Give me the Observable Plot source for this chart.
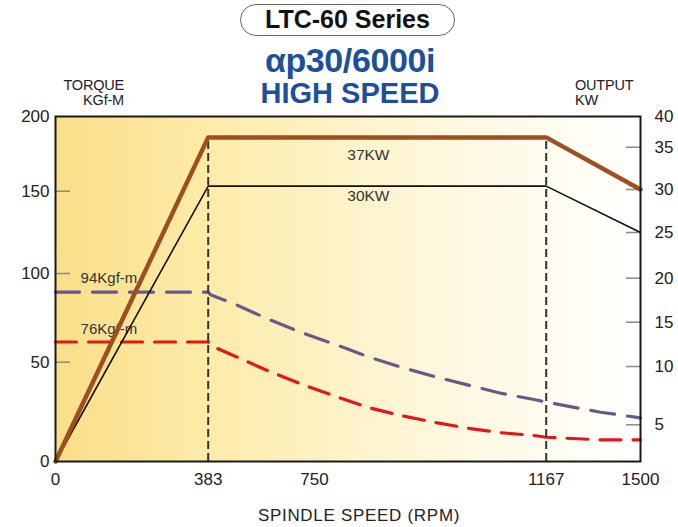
<!DOCTYPE html>
<html>
<head>
<meta charset="utf-8">
<script src="https://cdn.jsdelivr.net/npm/d3@7"></script>
<script src="https://cdn.jsdelivr.net/npm/@observablehq/plot@0.6"></script>
<style>
  html, body { margin: 0; padding: 0; background: #fff; }
  #wrap { position: relative; width: 678px; height: 527px; font-family: "Liberation Sans", Arial, sans-serif; color: #222; overflow: hidden; }
  #wrap > svg, #wrap > figure { position: absolute; left: 0; top: 0; margin: 0; }
  .t { position: absolute; line-height: 1; white-space: nowrap; }
  #box { position: absolute; left: 240px; top: 4px; width: 213px; height: 30px; border: 1.3px solid #666; border-radius: 16px; background: #fff; }
</style>
</head>
<body>
<div id="wrap">
  <div id="box"></div>
  <div class="t" style="left:240px; width:215px; text-align:center; top:7px; font-size:25px; font-weight:bold; color:#111;">LTC-60 Series</div>
  <div class="t" style="left:200px; width:300px; text-align:center; top:42.5px; font-size:34px; font-weight:bold; color:#1d4f9c; letter-spacing:-0.4px;">αp30/6000i</div>
  <div class="t" style="left:200px; width:300px; text-align:center; top:78.5px; font-size:29px; font-weight:bold; color:#1d4f9c;">HIGH SPEED</div>
  <div class="t" style="left:40px; width:84px; text-align:right; top:78px; font-size:14.5px; letter-spacing:-0.2px;">TORQUE</div>
  <div class="t" style="left:40px; width:84px; text-align:right; top:92.5px; font-size:14.5px; letter-spacing:-0.2px;">KGf-M</div>
  <div class="t" style="left:575px; top:78px; font-size:14.5px; letter-spacing:-0.2px;">OUTPUT</div>
  <div class="t" style="left:575px; top:92.5px; font-size:14.5px; letter-spacing:-0.2px;">KW</div>
  <div class="t" style="left:200px; width:318px; text-align:center; top:506.5px; font-size:17px; letter-spacing:0.7px;">SPINDLE SPEED (RPM)</div>
</div>
<script>
// ---- data ----
const speedTicks = [0, 383, 750, 1167, 1500];
const torqueTicks = [0, 50, 100, 150, 200];
const torqueInnerTicks = [50, 100, 150];
const powerScaleTicks = [0, 5, 10, 15, 20, 25, 30, 35, 40];
const powerTicks = [5, 10, 15, 20, 25, 30, 35, 40];
const powerInnerTicks = [5, 10, 15, 20, 25, 30, 35];

// torque curves (rpm, Kgf-m)
const torqueRpm = [0, 383, 391, 470, 587, 702, 784, 845, 905, 964, 1025, 1085, 1145, 1167, 1359, 1500];
const torque94 = [89.5, 89.5, 88.0, 83.1, 74.5, 66.9, 60.4, 53.2, 47.5, 42.9, 38.6, 34.4, 31.2, 29.9, 24.8, 22.0];
const torque76 = [61.4, 61.4, 59.4, 53.8, 45.8, 39.1, 33.2, 27.3, 23.2, 19.8, 16.8, 14.5, 13.1, 12.2, 10.9, 10.9];

// power curves (rpm, KW)
const powerRpm = [0, 383, 1167, 1500];
const power37 = [0, 36.6, 36.6, 30];
const power30 = [0, 30.4, 30.4, 25];

// base / max speed markers
const cornerSpeeds = [383, 1167];

// curve labels
const torqueLabels = [
  {text: "94Kgf-m", rpm: 63, value: 97.4},
  {text: "76Kgf-m", rpm: 63, value: 68.8}
];
const powerLabels = [
  {text: "37KW", rpm: 847, value: 34.1},
  {text: "30KW", rpm: 847, value: 29.2}
];

// ---- layout: the printed chart's axes are not evenly spaced, so each
// scale is warped piecewise between its labelled ticks ----
const W = 678, H = 527;
const margins = {marginLeft: 55, marginRight: 38, marginTop: 116, marginBottom: 66};
const xWarp = d3.scaleLinear().domain(speedTicks).range([0, 152.7, 259, 490.7, 585]);
const yTorqueWarp = d3.scaleLinear().domain(torqueTicks).range([0, 99.3, 188, 270.3, 345]);
const yPowerWarp = d3.scaleLinear().domain(powerScaleTicks).range([0, 36.7, 95, 139.3, 183.3, 229, 272, 314.3, 345]);
const xOpts = {domain: [0, 585], transform: xWarp};
const fmt = d => String(d);
const font = {fontFamily: "'Liberation Sans', Arial, sans-serif", fontSize: "17px", color: "#222", background: "none", overflow: "visible"};

const line94 = torqueRpm.map((r, i) => ({rpm: r, v: torque94[i]}));
const line76 = torqueRpm.map((r, i) => ({rpm: r, v: torque76[i]}));
const line37 = powerRpm.map((r, i) => ({rpm: r, v: power37[i]}));
const line30 = powerRpm.map((r, i) => ({rpm: r, v: power30[i]}));

const gradientDefs = () => {
  const defs = d3.create("svg:defs");
  const g = defs.append("linearGradient").attr("id", "bgGrad")
    .attr("x1", 0).attr("x2", 1).attr("y1", 0).attr("y2", 0);
  [[0, "#fbde88"], [0.27, "#fdecab"], [0.6, "#fff6d6"], [0.83, "#fffcef"], [1, "#ffffff"]]
    .forEach(([o, c]) => g.append("stop").attr("offset", o).attr("stop-color", c));
  return defs.node();
};

// Plot A: torque (left axis)
const plotA = Plot.plot({
  width: W, height: H, ...margins,
  style: font,
  x: xOpts,
  y: {domain: [0, 345], transform: yTorqueWarp},
  marks: [
    gradientDefs,
    Plot.frame({fill: "url(#bgGrad)"}),
    Plot.axisY(torqueInnerTicks, {anchor: "left", tickSize: 15, dx: 15, stroke: "#8a8a8a", strokeWidth: 1.5, tickFormat: () => "", label: null}),
    Plot.axisY(torqueTicks, {anchor: "left", tickSize: 0, tickPadding: 6, tickFormat: fmt, label: null, fill: "#222"}),
    Plot.axisX(speedTicks, {anchor: "bottom", tickSize: 0, tickPadding: 11, tickFormat: fmt, label: null, fill: "#222"}),
    Plot.line(line94, {x: "rpm", y: "v", stroke: "#665a86", strokeWidth: 3.2, strokeDasharray: "24,13"}),
    Plot.line(line76, {x: "rpm", y: "v", stroke: "#e0171b", strokeWidth: 3.2, strokeDasharray: "21,12"}),
    Plot.text(torqueLabels, {x: "rpm", y: "value", text: "text", textAnchor: "start", fontSize: 15, fill: "#333"})
  ]
});

// Plot B: power (right axis)
const plotB = Plot.plot({
  width: W, height: H, ...margins,
  style: font,
  x: {...xOpts, axis: null},
  y: {domain: [0, 345], transform: yPowerWarp},
  marks: [
    Plot.ruleX(cornerSpeeds, {y1: 0, y2: power37[1], stroke: "#333", strokeWidth: 2, strokeDasharray: "8,4"}),
    Plot.axisY(powerInnerTicks, {anchor: "right", tickSize: 15, dx: -15, stroke: "#8a8a8a", strokeWidth: 1.5, tickFormat: () => "", label: null}),
    Plot.axisY(powerTicks, {anchor: "right", tickSize: 0, tickPadding: 14, tickFormat: fmt, label: null, fill: "#222"}),
    Plot.line(line30, {x: "rpm", y: "v", stroke: "#111", strokeWidth: 1.6}),
    Plot.line(line37, {x: "rpm", y: "v", stroke: "#9d4f1f", strokeWidth: 4.5}),
    Plot.text(powerLabels, {x: "rpm", y: "value", text: "text", fontSize: 15.5, fill: "#333"}),
    Plot.frame({stroke: "#1a1a1a", strokeWidth: 2})
  ]
});

const wrap = document.getElementById("wrap");
wrap.insertBefore(plotA, wrap.firstChild);
wrap.insertBefore(plotB, plotA.nextSibling);
</script>
</body>
</html>
